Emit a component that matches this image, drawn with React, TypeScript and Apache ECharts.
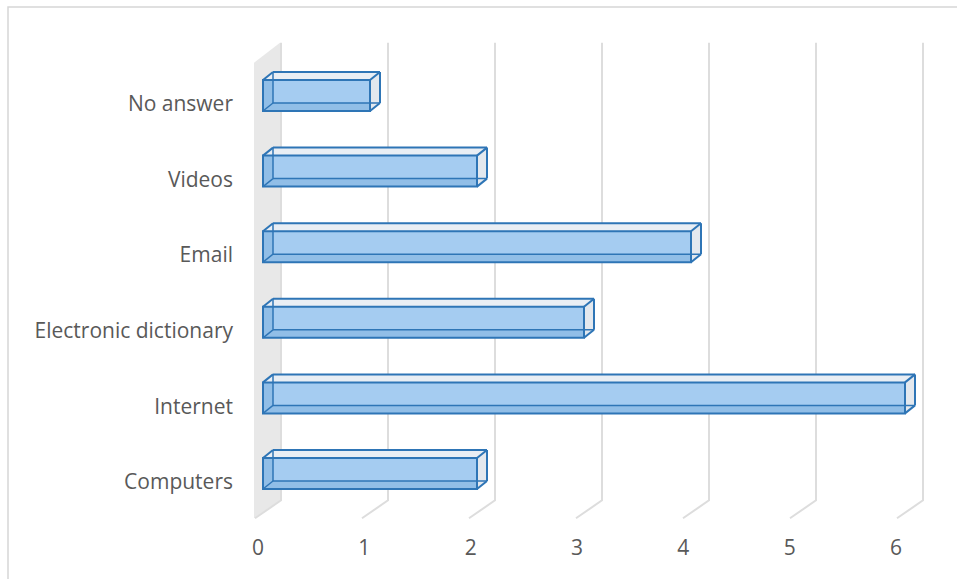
import React, { useEffect, useRef } from "react";
import * as echarts from "echarts";

const categories = ["No answer", "Videos", "Email", "Electronic dictionary", "Internet", "Computers"];
const values = [1, 2, 4, 3, 6, 2];
const tickValues = [0, 1, 2, 3, 4, 5, 6];

export default function App() {
  const ref = useRef<HTMLDivElement>(null);
  useEffect(() => {
    document.body.style.margin = "0";
    const chart = echarts.init(ref.current!, null, { renderer: "svg" });
    const DX = 10;
    const DY = -8;
    const BH = 15.5;
    const edge = "#2E75B6";
    const font = "Open Sans";
    const textColor = "#595959";

    const gridTop = 57.7;
    const gridH = 453.6;

    const option: any = {
      animation: false,
      backgroundColor: "#ffffff",
      graphic: [
        {
          type: "rect",
          shape: { x: 8, y: 7, width: 1200, height: 1200 },
          style: { fill: "none", stroke: "#D6D6D6", lineWidth: 1.5 },
          silent: true,
          z: -10,
        },
      ],
      grid: [
        { left: 263, width: 642, top: gridTop, height: gridH },
        { left: 258, width: 638, top: gridTop + 7.7, height: gridH },
      ],
      xAxis: [
        { gridIndex: 0, type: "value", min: 0, max: 6, interval: 1, show: false },
        {
          gridIndex: 1,
          type: "value",
          min: 0,
          max: 6,
          interval: 1,
          axisLine: { show: false },
          axisTick: { show: false },
          splitLine: { show: false },
          axisLabel: { fontFamily: font, fontSize: 21, color: textColor, margin: 17 },
        },
      ],
      yAxis: [
        { gridIndex: 0, type: "category", data: categories, inverse: true, show: false },
        {
          gridIndex: 1,
          type: "category",
          data: categories,
          inverse: true,
          axisLine: { show: false },
          axisTick: { show: false },
          splitLine: { show: false },
          axisLabel: { fontFamily: font, fontSize: 21, color: textColor, margin: 25 },
        },
      ],
      series: [
        {
          type: "custom",
          xAxisIndex: 0,
          yAxisIndex: 0,
          clip: false,
          silent: true,
          z: 1,
          data: tickValues.map((v) => [v, 0]),
          encode: { x: 0, y: 1 },
          renderItem: (params: any, api: any) => {
            const k = api.value(0);
            const cs = params.coordSys;
            const x = api.coord([k, 0])[0];
            const top = cs.y - 15;
            const backBottom = cs.y + cs.height - 11;
            const frontBottom = cs.y + cs.height + 7;
            const bx = x + 18;
            const fx = x - 8;
            const children: any[] = [];
            if (k === 0) {
              children.push({
                type: "polygon",
                shape: {
                  points: [
                    [x - 9, frontBottom],
                    [x - 9, cs.y + 5],
                    [bx - 1, top],
                    [bx - 1, backBottom],
                  ],
                },
                style: { fill: "#E8E8E8" },
              });
            }
            children.push({
              type: "polyline",
              shape: { points: [[bx, top], [bx, backBottom], [fx, frontBottom]] },
              style: { stroke: "#DDDDDD", lineWidth: 2, fill: "none" },
            });
            return { type: "group", children };
          },
        },
        {
          type: "custom",
          xAxisIndex: 0,
          yAxisIndex: 0,
          clip: false,
          silent: true,
          z: 2,
          data: values.map((v, i) => [v, i]),
          encode: { x: 0, y: 1 },
          renderItem: (params: any, api: any) => {
            const v = api.value(0);
            const i = api.value(1);
            const p0 = api.coord([0, i]);
            const p1 = api.coord([v, i]);
            const x0 = p0[0];
            const x1 = p1[0];
            const cy = p0[1];
            const t = cy - BH;
            const b = cy + BH;
            const line = (a: number[], c: number[], w = 2) => ({
              type: "line",
              shape: { x1: a[0], y1: a[1], x2: c[0], y2: c[1] },
              style: { stroke: edge, lineWidth: w },
            });
            return {
              type: "group",
              children: [
                {
                  type: "polygon",
                  shape: { points: [[x0, t], [x1, t], [x1 + DX, t + DY], [x0 + DX, t + DY]] },
                  style: { fill: "#E9EEF4" },
                },
                {
                  type: "polygon",
                  shape: { points: [[x1, t], [x1 + DX, t + DY], [x1 + DX, b + DY], [x1, b]] },
                  style: { fill: "#E3E8EE" },
                },
                {
                  type: "rect",
                  shape: { x: x0, y: t, width: x1 - x0, height: b - t },
                  style: { fill: "#A5CCF1" },
                },
                {
                  type: "polygon",
                  shape: { points: [[x0, t], [x0 + DX, t], [x0 + DX, b + DY], [x0, b]] },
                  style: { fill: "rgba(46,117,182,0.16)" },
                },
                {
                  type: "polygon",
                  shape: { points: [[x0, b], [x1, b], [x1, b + DY], [x0 + DX, b + DY]] },
                  style: { fill: "rgba(46,117,182,0.16)" },
                },
                line([x0 + DX, t + DY], [x0 + DX, b + DY], 1.5),
                line([x0 + DX, b + DY], [x1 + DX, b + DY], 1.5),
                line([x0, b], [x0 + DX, b + DY], 1.5),
                {
                  type: "rect",
                  shape: { x: x0, y: t, width: x1 - x0, height: b - t },
                  style: { fill: "none", stroke: edge, lineWidth: 2 },
                },
                line([x0, t], [x0 + DX, t + DY]),
                line([x1, t], [x1 + DX, t + DY]),
                line([x1, b], [x1 + DX, b + DY]),
                line([x0 + DX, t + DY], [x1 + DX, t + DY]),
                line([x1 + DX, t + DY], [x1 + DX, b + DY]),
              ],
            };
          },
        },
      ],
    };
    chart.setOption(option);
    return () => chart.dispose();
  }, []);
  return <div ref={ref} style={{ width: 957, height: 579, background: "#fff" }} />;
}
